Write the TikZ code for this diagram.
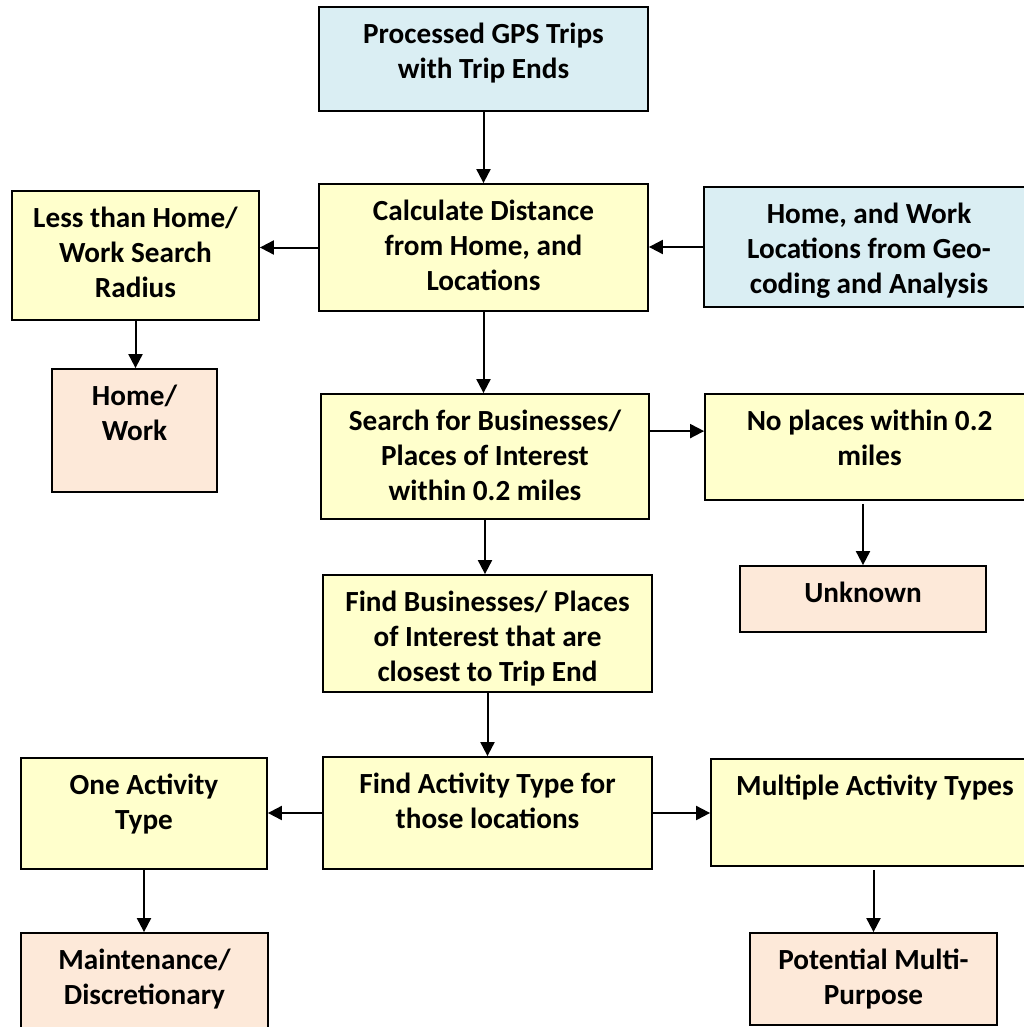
\documentclass[tikz,border=0pt]{standalone}
\usepackage{fontspec}
\setmainfont{Carlito}
\usetikzlibrary{arrows.meta}
\definecolor{bblue}{HTML}{DAEEF3}
\definecolor{byel}{HTML}{FFFFCC}
\definecolor{bpch}{HTML}{FDE9D9}
\newcommand{\bxtext}[3]{\parbox[t][#2pt][t]{#1pt}{\centering\vspace*{12pt}\strut #3}}
\begin{document}
\begin{tikzpicture}[x=1pt,y=-1pt,
  box/.style={draw=black, line width=1.8pt, rectangle, inner sep=0pt,
    font=\fontsize{29.2}{35}\selectfont\bfseries},
  bluebox/.style={box, fill=bblue},
  yelbox/.style={box, fill=byel},
  pchbox/.style={box, fill=bpch},
  arr/.style={line width=2pt, -{Triangle[length=14pt,width=14pt]}}]
\useasboundingbox (0,0) rectangle (1024,1027);
\clip (0,0) rectangle (1024,1027);
\node[bluebox] (gps) at (483.5,59) {\bxtext{329}{104}{Processed GPS Trips\\with Trip Ends}};
\node[yelbox] (calc) at (483.5,247.5) {\bxtext{329}{127}{Calculate Distance\\from Home, and\\Locations}};
\node[bluebox] (homeloc) at (869,247) {\bxtext{330}{120}{Home, and Work\\Locations from Geo-\\coding and Analysis}};
\node[yelbox] (less) at (135.5,255.5) {\bxtext{247}{129}{Less than Home/\\Work Search\\Radius}};
\node[pchbox] (hw) at (134.5,430.5) {\bxtext{165}{123}{Home/\\Work}};
\node[yelbox] (search) at (485,456.5) {\bxtext{328}{125}{Search for Businesses/\\Places of Interest\\within 0.2 miles}};
\node[yelbox] (noplaces) at (869.5,447) {\bxtext{329}{106}{No places within 0.2\\miles}};
\node[pchbox] (unknown) at (863,599) {\bxtext{246}{66}{Unknown}};
\node[yelbox] (find) at (487.5,633.5) {\bxtext{329}{117}{Find Businesses/ Places\\of Interest that are\\closest to Trip End}};
\node[yelbox] (activity) at (487.5,813) {\bxtext{329}{112}{Find Activity Type for\\those locations}};
\node[yelbox] (one) at (144,813.5) {\bxtext{246}{111}{One Activity\\Type}};
\node[yelbox] (multiple) at (875,812.5) {\bxtext{328}{107}{Multiple Activity Types}};
\node[pchbox] (maint) at (144.5,986.5) {\bxtext{247}{107}{Maintenance/\\Discretionary}};
\node[pchbox] (potential) at (873.5,979) {\bxtext{247}{92}{Potential Multi-\\Purpose}};
% connectors
\draw[arr] (gps.south) -- (gps.south |- calc.north);
\draw[arr] (calc.west) -- (calc.west -| less.east);
\draw[arr] (homeloc.west) -- (homeloc.west -| calc.east);
\draw[arr] (less.south) -- (less.south |- hw.north);
\draw[arr] (calc.south) -- (calc.south |- search.north);
\coordinate (s1) at ([yshift=-38pt]search.north east);
\draw[arr] (s1) -- (s1 -| noplaces.west);
\coordinate (n1) at ([yshift=-3pt]unknown.north |- noplaces.south);
\draw[arr] (n1) -- (unknown.north);
\draw[arr] (search.south) -- (search.south |- find.north);
\draw[arr] (find.south) -- (find.south |- activity.north);
\draw[arr] (activity.west) -- (activity.west -| one.east);
\draw[arr] (activity.east) -- (activity.east -| multiple.west);
\draw[arr] (one.south) -- (one.south |- maint.north);
\coordinate (m1) at ([yshift=-3pt]potential.north |- multiple.south);
\draw[arr] (m1) -- (potential.north);
\end{tikzpicture}
\end{document}
